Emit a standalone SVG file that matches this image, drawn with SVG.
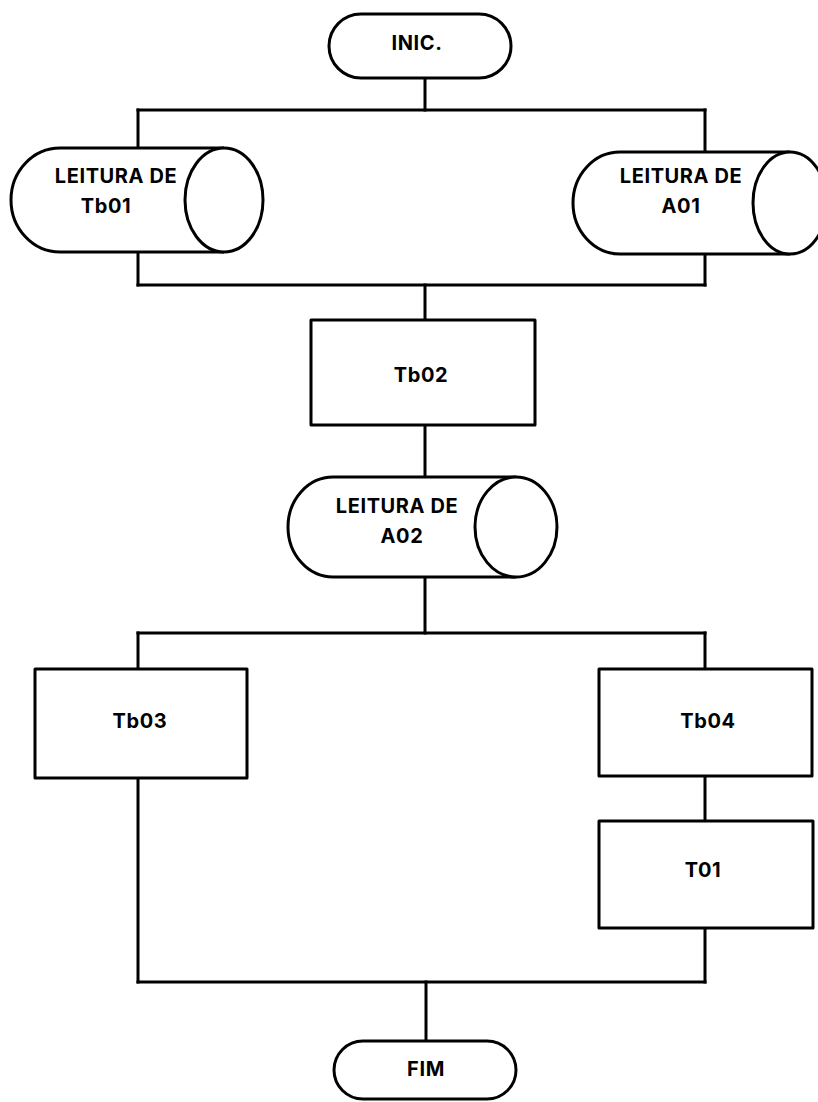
<svg xmlns="http://www.w3.org/2000/svg" width="818" height="1102" viewBox="0 0 818 1102">
<style>
.s{fill:#fff;stroke:#000;stroke-width:3;stroke-linejoin:round}
.c line{stroke:#000;stroke-width:3;stroke-linecap:square}
text{font-family:Inter,"Liberation Sans",sans-serif;font-weight:700;font-size:20px;letter-spacing:0.6px;text-anchor:middle;fill:#000}
</style>
<rect width="818" height="1102" fill="#fff"/>
<g class="c" id="connectors">
<line x1="425" y1="78" x2="425" y2="110"/>
<line x1="138" y1="110" x2="705" y2="110"/>
<line x1="138" y1="110" x2="138" y2="148"/>
<line x1="705" y1="110" x2="705" y2="152"/>
<line x1="138" y1="252" x2="138" y2="285"/>
<line x1="705" y1="254" x2="705" y2="285"/>
<line x1="138" y1="285" x2="705" y2="285"/>
<line x1="425" y1="285" x2="425" y2="320"/>
<line x1="425" y1="425" x2="425" y2="477"/>
<line x1="425" y1="577" x2="425" y2="633"/>
<line x1="138" y1="633" x2="705" y2="633"/>
<line x1="138" y1="633" x2="138" y2="669"/>
<line x1="705" y1="633" x2="705" y2="669"/>
<line x1="705" y1="776" x2="705" y2="821"/>
<line x1="138" y1="778" x2="138" y2="982"/>
<line x1="705" y1="928" x2="705" y2="982"/>
<line x1="138" y1="982" x2="705" y2="982"/>
<line x1="426" y1="982" x2="426" y2="1041"/>
</g>
<g id="inic">
<rect class="s" x="329" y="14" width="182" height="64" rx="32" ry="32"/>
<text x="417" y="50">INIC.</text>
</g>
<g id="leitura-tb01">
<path class="s" d="M224,148 L60,148 A49 52 0 0 0 60,252 L224,252"/>
<ellipse class="s" cx="224" cy="200" rx="39" ry="52"/>
<text x="116" y="183">LEITURA DE</text>
<text x="106" y="213">Tb01</text>
</g>
<g id="leitura-a01">
<path class="s" d="M790,152 L620,152 A47 51 0 0 0 620,254 L790,254"/>
<ellipse class="s" cx="790" cy="203" rx="37" ry="51"/>
<text x="681" y="183">LEITURA DE</text>
<text x="681" y="213">A01</text>
</g>
<g id="tb02">
<rect class="s" x="311" y="320" width="224" height="105"/>
<text x="421" y="382">Tb02</text>
</g>
<g id="leitura-a02">
<path class="s" d="M516,477 L333,477 A45 50 0 0 0 333,577 L516,577"/>
<ellipse class="s" cx="516" cy="527" rx="41" ry="50"/>
<text x="397" y="513">LEITURA DE</text>
<text x="402" y="543">A02</text>
</g>
<g id="tb03">
<rect class="s" x="35" y="669" width="212" height="109"/>
<text x="140" y="728">Tb03</text>
</g>
<g id="tb04">
<rect class="s" x="599" y="669" width="213" height="107"/>
<text x="708" y="728">Tb04</text>
</g>
<g id="t01">
<rect class="s" x="599" y="821" width="214" height="107"/>
<text x="703" y="877">T01</text>
</g>
<g id="fim">
<rect class="s" x="334" y="1041" width="182" height="58" rx="29" ry="29"/>
<text x="426" y="1076">FIM</text>
</g>
</svg>
